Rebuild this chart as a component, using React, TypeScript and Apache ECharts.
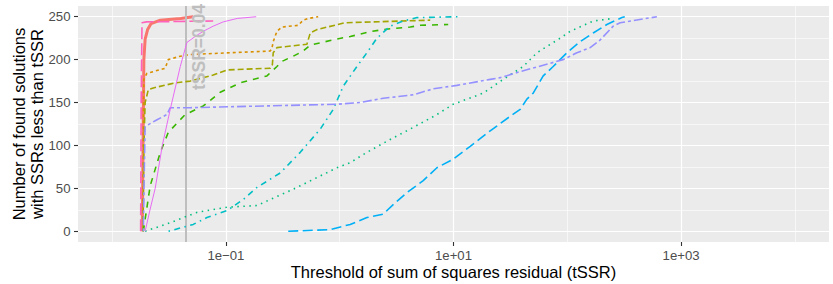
import { useEffect, useRef } from "react";
import * as echarts from "echarts";

// Each series: [tSSR, number of found solutions with SSR < tSSR]
const seriesNames = ["M1", "M2", "M3", "M4", "M5", "M6", "M7", "M8", "M9", "M10"];

const s1 = [[0.0184, 0], [0.0187, 100], [0.019, 200], [0.0195, 224], [0.0205, 235], [0.022, 242], [0.0265, 246], [0.04, 248], [0.0516, 250]];
const s2 = [[0.0186, 0], [0.0188, 120], [0.019, 177], [0.0202, 184], [0.0293, 190], [0.0311, 200], [0.0397, 204], [0.0486, 206], [0.2451, 210], [0.2537, 213], [0.2604, 221], [0.2807, 233], [0.3105, 238], [0.4318, 240], [0.4778, 246], [0.5287, 248], [0.6473, 250]];
const s3 = [[0.0187, 0], [0.019, 100], [0.0195, 150], [0.0208, 165], [0.023, 167], [0.0359, 173], [0.0486, 175], [0.0773, 182], [0.102, 188], [0.2451, 190], [0.256, 194], [0.2604, 208], [0.2807, 214], [0.515, 218], [0.5506, 231], [0.6304, 235], [1.1177, 243], [6.2426, 246]];
const s4 = [[0.0188, 0], [0.0216, 53], [0.0265, 92], [0.0311, 115], [0.0371, 126], [0.0439, 136], [0.0632, 146], [0.0891, 162], [0.1336, 173], [0.2293, 181], [0.2807, 192], [0.3105, 198], [0.3904, 204], [0.4778, 210], [0.5506, 217], [0.9449, 224], [1.2371, 227], [1.9187, 233], [2.7788, 236], [4.165, 238], [5.098, 240], [8.984, 241]];
const s5 = [[0.0195, 0], [0.0324, 10], [0.0556, 22], [0.102, 28], [0.1873, 30], [0.2451, 37], [0.3904, 49], [0.9449, 74], [1.2371, 80], [1.734, 92], [2.7788, 107], [4.425, 121], [7.148, 136], [9.94, 148], [18.24, 161], [27.34, 177], [40.97, 192], [54.07, 208], [86.61, 225], [106.1, 233], [168.9, 245], [253.2, 248]];
const s6 = [[0.0313, 0], [0.0516, 8], [0.0681, 16], [0.102, 24], [0.1419, 37], [0.1873, 51], [0.3001, 68], [0.4497, 92], [0.674, 119], [0.8768, 142], [1.0734, 169], [1.4163, 192], [1.734, 208], [2.1232, 225], [2.7788, 239], [3.6141, 245], [4.7696, 249], [11.45, 250]];
const s7 = [[0.3528, 0], [0.8251, 2], [1.2371, 8], [1.734, 16], [2.4116, 20], [2.9525, 31], [3.8954, 45], [5.4161, 59], [7.148, 74], [9.94, 84], [14.02, 99], [21.01, 117], [31.5, 134], [38.56, 142], [44.16, 154], [50.17, 161], [61.4, 181], [75.16, 192], [99.2, 208], [129.9, 221], [168.9, 231], [222.8, 241], [301.8, 249], [320, 250]];
const s8 = [[0.0188, 0], [0.0191, 60], [0.0195, 122], [0.0248, 130], [0.0303, 136], [0.0324, 144], [0.0486, 144], [0.9449, 148], [1.5142, 150], [2.4116, 155], [4.4252, 159], [6.6309, 166], [10.71, 170], [21.01, 177], [25.73, 179], [38.56, 186], [92.04, 200], [121.4, 208], [158.9, 214], [194.6, 223], [253.2, 239], [291.6, 243], [612.9, 250]];
const s9 = [[0.0195, 0], [0.0216, 26], [0.0239, 50], [0.0276, 100], [0.0324, 142], [0.0397, 192], [0.0454, 220], [0.0537, 227], [0.0632, 233], [0.0773, 239], [0.0947, 244], [0.1257, 248], [0.1846, 250]];
const s10 = [[0.0178, 0], [0.018, 150], [0.0183, 243], [0.02, 244], [0.0773, 245]];

const allSeries = [s1, s2, s3, s4, s5, s6, s7, s8, s9, s10];

const xMajorExp = [-1, 1, 3];
const xMinorExp = [-2, 0, 2, 4];
const yMajor = [0, 50, 100, 150, 200, 250];
const yMinor = [25, 75, 125, 175, 225];

const tssrThreshold = 0.0443;
const tssrLabel = "tSSR=0.04";

const colors = ["#F8766D", "#D89000", "#A3A500", "#39B600", "#00BF7D", "#00BFC4", "#00B0F6", "#9590FF", "#E76BF3", "#FF62BC"];
const widths = [3, 1.6, 1.6, 1.6, 1.6, 1.6, 1.6, 1.6, 1, 1.6];
const dashes: any[] = ["solid", [3, 3], [6, 3], [6, 6], [1.5, 4.5], [1.5, 4.5, 6, 4.5], [10, 4.5], [3, 3, 9, 3], "solid", [12, 4]];

const FONT = "Liberation Sans";

function expLabel(v: number) {
  const sign = v < 0 ? "\u2212" : "+";
  const a = Math.abs(Math.round(v));
  return "1e" + sign + (a < 10 ? "0" + a : String(a));
}

export default function App() {
  const ref = useRef<HTMLDivElement>(null);
  useEffect(() => {
    if (!ref.current) return;
    const chart = echarts.init(ref.current, undefined, { renderer: "svg" });
    const baseX = {
      type: "value",
      min: -2.3,
      max: 4.3,
      axisLine: { show: false, onZero: false },
    };
    const baseY = {
      type: "value",
      min: -12.5,
      max: 262.5,
      axisLine: { show: false, onZero: false },
    };
    const series: any[] = allSeries.map((d, i) => ({
      name: seriesNames[i],
      type: "line",
      xAxisIndex: 0,
      yAxisIndex: 0,
      data: d.map(([x, y]) => [Math.log10(x), y]),
      showSymbol: false,
      symbol: "none",
      silent: true,
      z: 3 + i,
      lineStyle: { color: colors[i], width: widths[i], type: dashes[i], cap: "butt" },
    }));
    series.push({
      type: "line",
      xAxisIndex: 0,
      yAxisIndex: 0,
      data: [],
      silent: true,
      z: 20,
      markLine: {
        silent: true,
        symbol: ["none", "none"],
        label: { show: false },
        lineStyle: { color: "#BEBEBE", width: 2, type: "solid" },
        data: [{ xAxis: Math.log10(tssrThreshold) }],
      },
    });
    chart.setOption({
      animation: false,
      backgroundColor: "#FFFFFF",
      textStyle: { fontFamily: FONT },
      grid: { left: 78, right: 4, top: 6, bottom: 42, show: true, backgroundColor: "#EBEBEB", borderWidth: 0, containLabel: false, outerBoundsMode: "none" },
      xAxis: [
        {
          ...baseX,
          position: "bottom",
          name: "Threshold of sum of squares residual (tSSR)",
          nameLocation: "middle",
          nameGap: 21,
          nameMoveOverlap: false,
          nameTextStyle: { fontSize: 16.5, color: "#000000", fontFamily: FONT },
          axisTick: { show: true, length: 4, customValues: xMajorExp, lineStyle: { color: "#333333", width: 1.1 } },
          axisLabel: { customValues: xMajorExp, formatter: (v: number) => expLabel(v), color: "#4D4D4D", fontSize: 13.2, margin: 7, fontFamily: FONT },
          splitLine: { show: true, lineStyle: { color: "#FFFFFF", width: 1.2 } },
        },
        {
          ...baseX,
          position: "bottom",
          axisTick: { show: false, customValues: xMinorExp },
          axisLabel: { show: false },
          splitLine: { show: true, lineStyle: { color: "#FFFFFF", width: 0.6 } },
        },
      ],
      yAxis: [
        {
          ...baseY,
          position: "left",
          name: "Number of found solutions\nwith SSRs less than tSSR",
          nameLocation: "middle",
          nameGap: 32,
          nameMoveOverlap: false,
          nameTextStyle: { fontSize: 16.5, color: "#000000", lineHeight: 18, fontFamily: FONT },
          axisTick: { show: true, length: 4, customValues: yMajor, lineStyle: { color: "#333333", width: 1.1 } },
          axisLabel: { customValues: yMajor, color: "#4D4D4D", fontSize: 13.2, margin: 7.5, fontFamily: FONT },
          splitLine: { show: true, lineStyle: { color: "#FFFFFF", width: 1.2 } },
        },
        {
          ...baseY,
          position: "left",
          axisTick: { show: false, customValues: yMinor },
          axisLabel: { show: false },
          splitLine: { show: true, lineStyle: { color: "#FFFFFF", width: 0.6 } },
        },
      ],
      graphic: [
        {
          type: "text",
          x: 199,
          y: 47,
          rotation: Math.PI / 2,
          z: 100,
          style: {
            text: tssrLabel,
            fill: "#BEBEBE",
            fontSize: 17.5,
            fontWeight: "bold",
            fontFamily: FONT,
            align: "center",
            verticalAlign: "middle",
          },
        },
      ],
      series,
    });
    return () => chart.dispose();
  }, []);
  return <div ref={ref} style={{ position: "absolute", left: 0, top: 0, width: 833, height: 284 }} />;
}
